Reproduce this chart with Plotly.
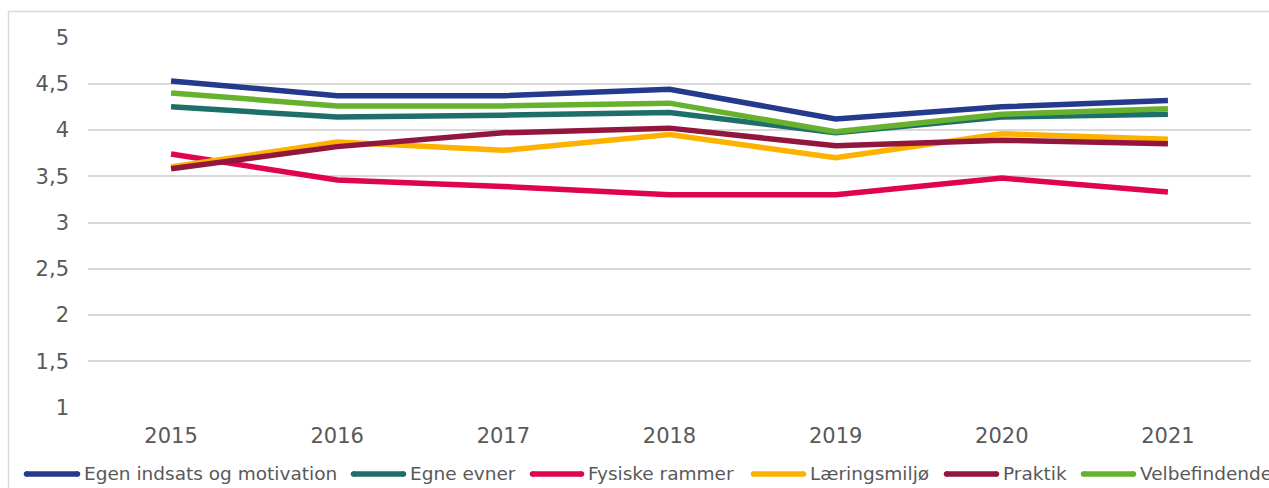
import plotly.graph_objects as go

# Survey averages per theme, 2015-2021
years = ["2015", "2016", "2017", "2018", "2019", "2020", "2021"]
egen_indsats = [4.53, 4.37, 4.37, 4.44, 4.12, 4.25, 4.32]
egne_evner = [4.25, 4.14, 4.16, 4.19, 3.97, 4.14, 4.17]
fysiske_rammer = [3.74, 3.46, 3.39, 3.30, 3.30, 3.48, 3.33]
laeringsmiljo = [3.60, 3.87, 3.78, 3.95, 3.70, 3.96, 3.90]
praktik = [3.58, 3.82, 3.97, 4.02, 3.83, 3.89, 3.85]
velbefindende = [4.40, 4.26, 4.26, 4.29, 3.98, 4.17, 4.23]

series_names = ["Egen indsats og motivation", "Egne evner", "Fysiske rammer",
                "Læringsmiljø", "Praktik", "Velbefindende"]
series_values = [egen_indsats, egne_evner, fysiske_rammer,
                 laeringsmiljo, praktik, velbefindende]
series_colors = ["#243A8C", "#1E6E69", "#E0044E", "#FDB200", "#93163D", "#66B22F"]

y_ticks = [1, 1.5, 2, 2.5, 3, 3.5, 4, 4.5, 5]
y_tick_labels = ["1", "1,5", "2", "2,5", "3", "3,5", "4", "4,5", "5"]

W, H = 1269, 488
ML, MR, MT, MB = 88, 18, 37, 80
PW = W - ML - MR
PH = H - MT - MB

FONT = "DejaVu Sans, Verdana, sans-serif"
TXT = "#595959"

fig = go.Figure()
for name, vals, col in zip(series_names, series_values, series_colors):
    fig.add_trace(go.Scatter(
        x=years, y=vals, name=name, mode="lines",
        line=dict(color=col, width=5.5, shape="linear"),
        showlegend=False, hoverinfo="x+y+name",
    ))


def px_x(px):
    return (px - ML) / PW


def px_y(py):
    return (H - MB - py) / PH


shapes = []
annotations = []

# outer chart frame (runs off the right and bottom edges)
shapes.append(dict(type="rect", xref="paper", yref="paper",
                   x0=px_x(8.5), x1=px_x(1300), y0=px_y(11.5), y1=px_y(520),
                   line=dict(color="#D9D9D9", width=1.5), fillcolor="rgba(0,0,0,0)",
                   layer="below"))

# legend row drawn by hand
legend_line_x = [(24, 80), (351, 406), (530, 584), (751, 806), (944, 999), (1081, 1136)]
legend_text_x = [82, 408, 586, 808, 1001, 1138]
leg_y = 474
for (x0, x1), tx, name, col in zip(legend_line_x, legend_text_x, series_names, series_colors):
    shapes.append(dict(type="line", xref="paper", yref="paper",
                       x0=px_x(x0 + 2), x1=px_x(x1 - 2), y0=px_y(leg_y), y1=px_y(leg_y),
                       line=dict(color=col, width=5.5)))
    for cx in (x0 + 2.5, x1 - 2.5):
        shapes.append(dict(type="circle", xref="paper", yref="paper",
                           x0=px_x(cx - 2.75), x1=px_x(cx + 2.75),
                           y0=px_y(leg_y + 2.75), y1=px_y(leg_y - 2.75),
                           fillcolor=col, line=dict(width=0)))
    annotations.append(dict(xref="paper", yref="paper", x=px_x(tx), y=px_y(leg_y - 1),
                            xanchor="left", yanchor="middle", showarrow=False,
                            text=name, font=dict(family=FONT, size=18.5, color=TXT)))

fig.update_layout(
    width=W, height=H,
    margin=dict(l=ML, r=MR, t=MT, b=MB, pad=0),
    paper_bgcolor="white", plot_bgcolor="white",
    font=dict(family=FONT, color=TXT),
    shapes=shapes, annotations=annotations,
    showlegend=False,
)
fig.update_xaxes(
    type="category", range=[-0.5, 6.5],
    showgrid=False, showline=False, zeroline=False, ticks="",
    tickfont=dict(family=FONT, size=21, color=TXT),
    ticklabelstandoff=13,
)
fig.update_yaxes(
    range=[0.995, 5.005], tickvals=y_ticks, ticktext=y_tick_labels,
    showgrid=True, gridcolor="#D9D9D9", gridwidth=2,
    showline=False, zeroline=False, ticks="",
    tickfont=dict(family=FONT, size=21, color=TXT),
    ticklabelstandoff=18,
)

fig.write_html("out.html")
